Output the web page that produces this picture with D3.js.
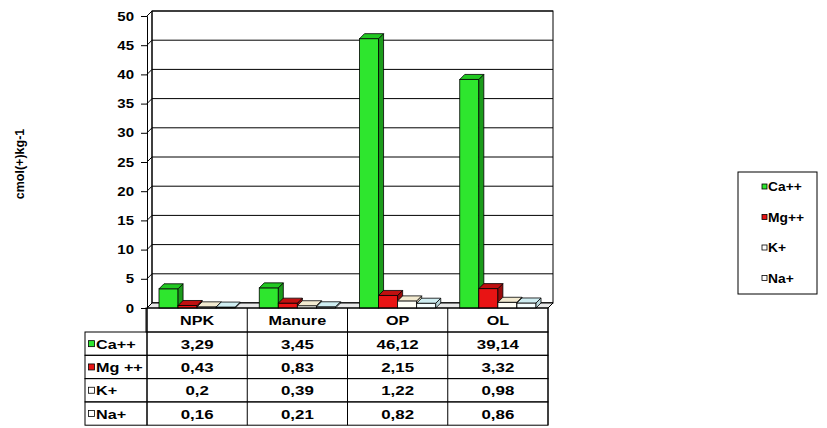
<!DOCTYPE html>
<html><head><meta charset="utf-8">
<script src="https://cdn.jsdelivr.net/npm/d3@7"></script>
<style>body{margin:0;background:#fff}svg{display:block;font-family:"Liberation Sans",Arial,sans-serif}</style>
</head><body><svg id="c" width="827" height="428"></svg>
<script>
const categories = ["NPK","Manure","OP","OL"];
const seriesNames = ["Ca++","Mg++","K+","Na+"];
const tableRowLabels = ["Ca++","Mg ++","K+","Na+"];
const caValues = [3.29,3.45,46.12,39.14];
const mgValues = [0.43,0.83,2.15,3.32];
const kValues  = [0.2,0.39,1.22,0.98];
const naValues = [0.16,0.21,0.82,0.86];
const yTicks = [0,5,10,15,20,25,30,35,40,45,50];
const yTitle = "cmol(+)kg-1";

const seriesValues = [caValues, mgValues, kValues, naValues];
const fronts = ["#2ee62e","#e81414","#fffff6","#f6ffff"];
const sides  = ["#1b9b1b","#9a0a0a","#d8d2b8","#b8d6da"];
const tops   = ["#22c822","#c01010","#f2ead0","#cfeef2"];
const legendFill = ["#2ee62e","#e81414","#ffffff","#ffffff"];

const svg = d3.select("#c");
const X0 = 147, X1 = 548, DX = 5, DY = -5;
const y = d3.scaleLinear().domain([0,50]).range([308,16]);
const x = d3.scaleBand().domain(categories).range([X0,X1]);
const xs = d3.scaleBand().domain(seriesNames).range([12, x.bandwidth()-12]);

// stretched text helper
function stext(sel, tx, ty, str, size, anchor, sx){
  return sel.append("text").attr("transform",`translate(${tx},${ty}) scale(${sx},1)`)
    .attr("text-anchor",anchor).attr("font-size",size).attr("font-weight","bold").attr("fill","#000").text(str);
}

const g = svg.append("g");
g.append("rect").attr("x",X0+DX).attr("y",y(50)+DY).attr("width",X1-X0).attr("height",y(0)-y(50))
  .attr("fill","#fff").attr("stroke","#000").attr("stroke-width",1);
yTicks.forEach(t=>{
  g.append("line").attr("x1",X0+DX).attr("x2",X1+DX).attr("y1",y(t)+DY).attr("y2",y(t)+DY)
   .attr("stroke","#000").attr("stroke-width",1);
  g.append("line").attr("x1",X0).attr("x2",X0+DX).attr("y1",y(t)).attr("y2",y(t)+DY)
   .attr("stroke","#000").attr("stroke-width",1);
});
g.append("path").attr("d",`M${X0},${y(0)}L${X1},${y(0)}L${X1+DX},${y(0)+DY}L${X0+DX},${y(0)+DY}Z`)
  .attr("fill","#e8e8e8").attr("stroke","#000");
g.append("line").attr("x1",X0+DX).attr("x2",X0+DX).attr("y1",y(50)+DY).attr("y2",y(0)+DY).attr("stroke","#000");

const ax = d3.axisLeft(y).tickValues(yTicks).tickSize(6).tickPadding(6);
const axg = svg.append("g").attr("transform",`translate(${X0},0)`).call(ax);
axg.select(".domain").attr("stroke","#000");
axg.selectAll(".tick line").attr("stroke","#000");
axg.selectAll(".tick text").remove();
yTicks.forEach(t=>{
  stext(svg, X0-13, y(t)+4.5, String(t), 12.5, "end", 1.2);
});

const bars = svg.append("g");
categories.forEach((c,ci)=>{
  seriesNames.forEach((s,si)=>{
    const v = seriesValues[si][ci];
    const bx = x(c)+xs(s), bw = xs.bandwidth(), by = y(v), b0 = y(0);
    bars.append("rect").attr("x",bx).attr("y",by).attr("width",bw).attr("height",b0-by)
      .attr("fill",fronts[si]).attr("stroke","#000").attr("stroke-width",0.8);
    bars.append("path").attr("d",`M${bx+bw},${by}L${bx+bw+DX},${by+DY}L${bx+bw+DX},${b0+DY}L${bx+bw},${b0}Z`)
      .attr("fill",sides[si]).attr("stroke","#000").attr("stroke-width",0.8);
    bars.append("path").attr("d",`M${bx},${by}L${bx+DX},${by+DY}L${bx+bw+DX},${by+DY}L${bx+bw},${by}Z`)
      .attr("fill",tops[si]).attr("stroke","#000").attr("stroke-width",0.8);
  });
});

svg.append("text").attr("transform","translate(24,164) rotate(-90)").attr("text-anchor","middle")
  .attr("font-size",12.5).attr("font-weight","bold").text(yTitle);

const T = svg.append("g");
const rowH = 23.3, top0 = 308, lx = 85;
const fmt = v => String(v).replace(".",",");
T.append("rect").attr("x",X0-1).attr("y",top0).attr("width",X1-X0+1).attr("height",24).attr("fill","none").attr("stroke","#000");
categories.forEach(c=>{
  T.append("line").attr("x1",x(c)).attr("x2",x(c)).attr("y1",top0).attr("y2",top0+24+rowH*4).attr("stroke","#000");
  stext(T, x(c)+x.bandwidth()/2, top0+17, c, 13.5, "middle", 1.2);
});
seriesNames.forEach((s,si)=>{
  const ry = top0+24+rowH*si;
  T.append("rect").attr("x",lx).attr("y",ry).attr("width",X1-lx).attr("height",rowH).attr("fill","none").attr("stroke","#000");
  T.append("rect").attr("x",lx+3.5).attr("y",ry+rowH/2-3).attr("width",6).attr("height",6)
   .attr("fill",legendFill[si]).attr("stroke","#000").attr("stroke-width",0.8);
  stext(T, lx+11, ry+rowH/2+5, tableRowLabels[si], 13.5, "start", 1.2);
  categories.forEach((c,ci)=>{
    stext(T, x(c)+x.bandwidth()/2, ry+rowH/2+5, fmt(seriesValues[si][ci]), 13.5, "middle", 1.25);
  });
});
T.append("line").attr("x1",X0).attr("x2",X0).attr("y1",top0).attr("y2",top0+24+rowH*4).attr("stroke","#000");
T.append("line").attr("x1",X1).attr("x2",X1).attr("y1",top0).attr("y2",top0+24+rowH*4).attr("stroke","#000");

const L = svg.append("g");
L.append("rect").attr("x",738).attr("y",172).attr("width",79).attr("height",122).attr("fill","#fff").attr("stroke","#000");
seriesNames.forEach((s,si)=>{
  const ly = 187 + si*30.5;
  L.append("rect").attr("x",762).attr("y",ly-3).attr("width",5).attr("height",5)
   .attr("fill",legendFill[si]).attr("stroke","#000").attr("stroke-width",0.8);
  stext(L, 768, ly+4, s, 12, "start", 1.15);
});
</script></body></html>
